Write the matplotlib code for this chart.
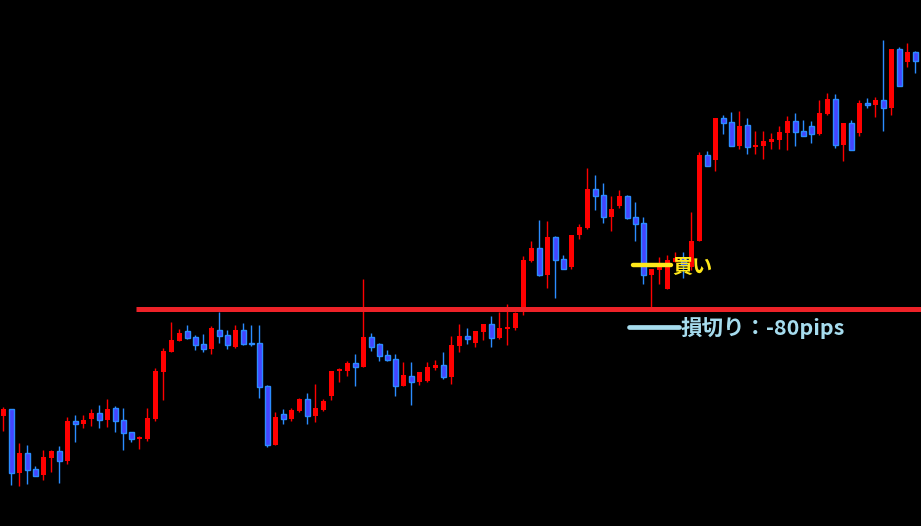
import matplotlib
matplotlib.use("Agg")
import matplotlib.pyplot as plt
import numpy as np

# OHLC data (price units)
opens = [110.3, 117, 53.3, 73, 57, 51, 68.3, 75, 65, 105, 102.3, 107, 113, 106.3, 118, 106, 94, 87.3, 87.3, 107.3,
         154.3, 174, 185.3, 195, 189, 182, 177.3, 196, 191, 179, 196, 183.3, 183, 140, 81.3, 112, 107, 115, 127, 110.3,
         116.3, 130.3, 154.7, 155.3, 163, 159, 189, 182, 171, 167, 140.3, 150, 144.3, 145, 158.3, 161, 149.3, 180.3, 190, 183,
         194.3, 202, 188.3, 197, 198, 214, 265, 278, 251, 289, 267, 259, 291, 298, 337, 331, 309, 320, 330, 309,
         303, 251, 256, 237, 264, 268, 259, 285, 371, 366, 408, 404, 380, 401, 379, 380, 384, 386, 393, 405,
         395, 400, 392, 412, 427, 381.3, 403, 393, 423, 421, 426, 418.3, 477, 464, 474]
highs = [119, 117, 83, 81, 60, 76, 76, 80, 109, 111, 111, 117, 121, 127, 120, 118, 94, 90, 118, 158,
         178, 204, 197, 201, 191, 192, 200, 214, 196, 201, 203, 201, 201, 141, 114, 117, 118, 128, 133, 142,
         127, 155, 158, 165, 172, 247, 193, 183, 176, 172, 164, 164, 154, 164, 166, 174, 190, 202, 198, 195,
         202, 210, 214, 222, 214, 270, 285, 306, 305, 290, 271, 291, 302, 358, 351, 343, 330, 336, 331, 324,
         309, 257, 269, 271, 274, 274, 314, 374, 375, 408, 411, 414, 415, 408, 395, 395, 393, 400, 410, 413,
         406, 405, 426, 433, 432, 403, 406, 426, 428, 429, 486, 477, 479, 483, 475]
lows = [95.3, 41.3, 40.3, 42.3, 50.3, 46.3, 54.3, 43.3, 62.3, 84.3, 98.3, 100.3, 98.3, 99.3, 94.3, 76.3, 84.3, 77.3, 85.3, 105.3,
        126.3, 174, 185.3, 187.3, 176.3, 174.3, 172.3, 183.3, 177, 178, 181, 180, 128, 79.3, 81.3, 102.3, 105.3, 114, 102.3, 104.3,
        115.3, 126.3, 144.3, 150.3, 140.3, 159, 175.3, 165.3, 165.3, 130.3, 140.3, 121.3, 141.3, 144.3, 156.3, 147.3, 142.3, 174, 182, 179,
        186, 179, 187, 181, 196, 211, 264, 250, 238, 228, 257, 257, 287, 297, 316, 303, 295, 318, 307, 285,
        242, 219, 242, 237, 264, 248, 256, 285, 360.3, 355, 392, 380.3, 377, 372.3, 372, 367, 377, 377, 376, 380,
        390.3, 383, 391, 411, 378, 365, 376.3, 390, 418, 409, 395, 411, 440.3, 459, 453.3]
closes = [117, 53.3, 73, 56.3, 50.3, 69, 75, 65.3, 105, 102.3, 106, 113, 106.3, 117, 105.3, 93.3, 87.3, 88.7, 108, 155,
          175, 186, 193, 188.3, 181.3, 177.3, 198, 190.3, 181, 196, 182, 182.3, 139.3, 81.3, 109, 107.3, 116, 127, 110.3, 118,
          125, 155, 156.7, 163, 159.3, 189, 179.3, 170.3, 166.3, 140.3, 151, 144.3, 154, 159, 161, 149.3, 181, 190, 187.3, 195,
          202, 188.3, 198, 199, 213, 266, 278, 251, 289, 266, 257, 291, 299, 337, 330, 309, 317, 330, 308, 302,
          251, 257, 261, 266, 268, 261, 285, 371, 360.3, 408, 403, 380.3, 400, 379.3, 381, 385, 387, 394, 405, 394.3,
          390.3, 392, 413, 427, 381.3, 403, 376.3, 423, 421, 426, 418.3, 477, 440.3, 474, 465.3]

resistance_level = 217
entry_price = 261
stop_price = 199
entry_label = "買い"
stop_label = "損切り：-80pips"

opens = np.array(opens); highs = np.array(highs); lows = np.array(lows); closes = np.array(closes)
idx = np.arange(len(opens))
up = closes >= opens

RED = "#FF0000"
BLUE_FILL = "#4545FF"
BLUE_EDGE = "#2B8CFF"

fig = plt.figure(figsize=(9.21, 5.26), dpi=100, facecolor="black")
ax = fig.add_axes([0, 0, 1, 1])
ax.set_facecolor("black")

# wicks
ax.vlines(idx[up], lows[up], highs[up], color=RED, linewidth=1.0, zorder=2)
ax.vlines(idx[~up], lows[~up], highs[~up], color=BLUE_EDGE, linewidth=1.0, zorder=2)

# bodies
bottoms = np.minimum(opens, closes)
heights = np.maximum(np.abs(closes - opens), 1.2)
ax.bar(idx[up], heights[up], bottom=bottoms[up], width=0.62, color=RED, edgecolor=RED, linewidth=0, zorder=3)
ax.bar(idx[~up], heights[~up], bottom=bottoms[~up], width=0.62, color=BLUE_FILL, edgecolor=BLUE_EDGE,
       linewidth=1.0, zorder=3)

# resistance line
ax.plot([16.6, 116], [resistance_level, resistance_level], color="#EE2228", linewidth=3.6,
        solid_capstyle="butt", zorder=4)

# entry line and label
ax.plot([78.75, 83.45], [entry_price, entry_price], color="#FFE81A", linewidth=3.2,
        solid_capstyle="round", zorder=5)
ax.text(83.6, entry_price - 1.5, entry_label, color="#FFE81A", fontsize=14.5, fontweight="bold",
        family=["Noto Sans CJK JP", "DejaVu Sans"], va="center", ha="left", zorder=6)

# stop line and label
ax.plot([78.2, 84.45], [stop_price, stop_price], color="#A6DCEE", linewidth=3.4,
        solid_capstyle="round", zorder=5)
ax.text(84.6, stop_price - 1, stop_label, color="#A6DCEE", fontsize=15.5, fontweight="bold",
        family=["Noto Sans CJK JP", "DejaVu Sans"], va="center", ha="left", zorder=6)

ax.set_xlim(-0.4125, 114.7125)
ax.set_ylim(0, 526)
ax.axis("off")

fig.savefig("out.png", dpi=100, facecolor="black")
